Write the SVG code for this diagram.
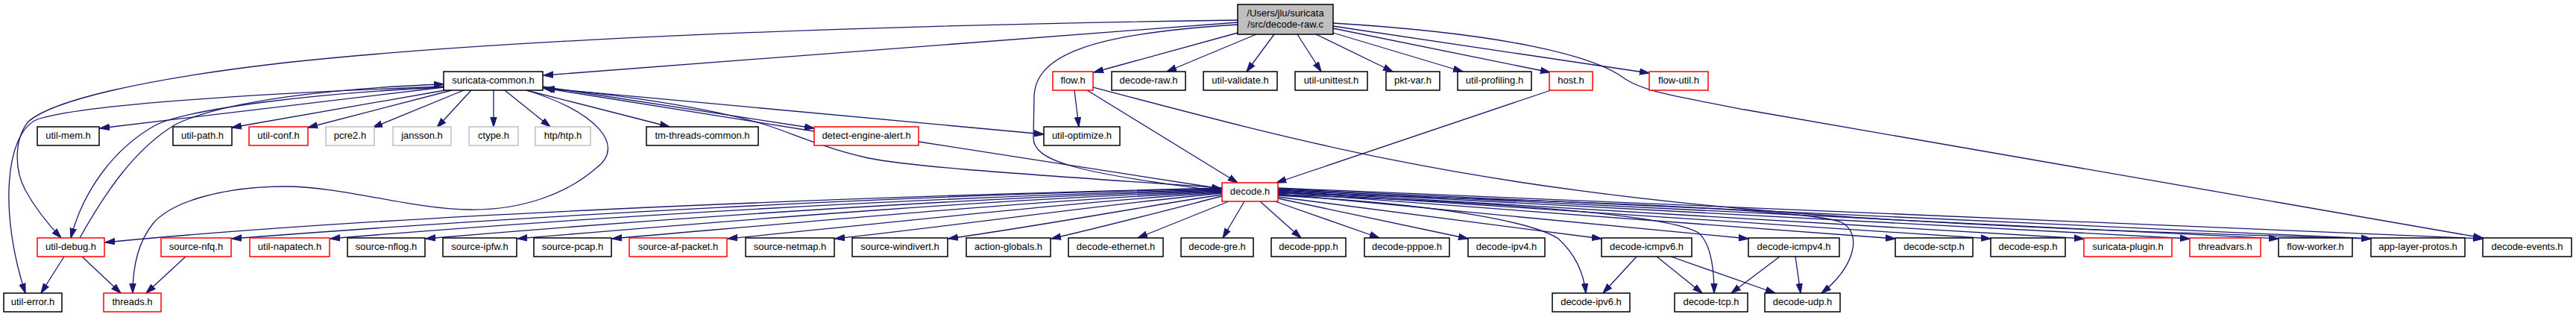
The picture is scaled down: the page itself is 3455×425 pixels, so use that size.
<svg xmlns="http://www.w3.org/2000/svg" width="3455" height="425" viewBox="0 0 3455 425">
<style>
.nd rect{fill:#fff;stroke:#000;stroke-width:1.5}
.nd.r rect{stroke:#ff0000}
.nd.g rect{stroke:#bfbfbf}
.nd.root rect{fill:#bfbfbf}
.nd text{font-family:"Liberation Sans",Arial,Helvetica,sans-serif;font-size:13px;text-anchor:middle;fill:#000}
#edges path{fill:none;stroke:#191970;stroke-width:1.3;marker-end:url(#ah)}
</style>
<defs>
<marker id="ah" viewBox="0 0 14 10" refX="13" refY="5" markerWidth="14" markerHeight="10" markerUnits="userSpaceOnUse" orient="auto">
<path d="M0,0.8 L13.5,5 L0,9.2 z" fill="#191970" stroke="#191970" stroke-width="1"/>
</marker>
</defs>
<rect width="3455" height="425" fill="#fff"/>
<g id="edges">
<!-- root edges -->
<path d="M1660,30 L729,101"/>
<path d="M1660,27 C1100,35 650,55 383,84 C190,106 70,135 38,163 C20,185 18,225 34,255 C45,275 62,298 82,319"/>
<path d="M1660,33 C1460,45 1388,75 1387,130 L1386,185 C1386,215 1440,232 1638,256"/>
<path d="M1660,44 L1467,97"/>
<path d="M1685,46 L1565,96"/>
<path d="M1709,46 L1672,96"/>
<path d="M1740,46 L1772,96"/>
<path d="M1765,46 L1868,96"/>
<path d="M1788,44 L1962,96"/>
<path d="M1788,38 L2079,97"/>
<path d="M1788,35 L2212,98"/>
<path d="M1788,31 C2020,45 2140,75 2180,106 C2205,122 2240,128 2340,147 L3330,319"/>
<!-- suricata-common edges -->
<path d="M595,117 L134,172"/>
<path d="M597,121 L311,171"/>
<path d="M606,121 L413,171"/>
<path d="M622,121 L500,171"/>
<path d="M632,121 L586,171"/>
<path d="M662,121 L662,170"/>
<path d="M677,121 L738,170"/>
<path d="M706,121 L898,170"/>
<path d="M728,116 L1092,172"/>
<path d="M1092,176 L729,118"/>
<path d="M729,118 L1400,180"/>
<path d="M595,117 C420,125 260,145 210,167 C150,200 110,260 95,319"/>
<path d="M107,319 C140,260 180,200 235,167 C300,135 450,118 595,113"/>
<path d="M595,116 C350,125 110,140 50,160 C5,180 0,290 34,393"/>
<path d="M706,121 C800,150 840,195 800,225 C760,260 700,282 630,281 C550,280 460,250 383,250 C300,250 230,270 205,300 C185,325 178,360 178,393"/>
<path d="M1639,252 C1400,235 1230,225 1165,212 C1110,200 1065,180 1035,170 C960,145 820,125 731,119"/>
<path d="M1232,190 L1638,253"/>
<!-- flow.h / host.h edges -->
<path d="M1441,121 L1447,170"/>
<path d="M1458,121 L1660,245"/>
<path d="M1466,117 C1750,192 1950,245 2340,280 C2600,303 2900,312 3180,320"/>
<path d="M2080,121 L1712,245"/>
<!-- decode.h left fan -->
<path d="M1639,252 C1100,265 500,290 141,325"/>
<path d="M1639,253 C1200,262 700,290 311,320"/>
<path d="M1639,254 C1250,264 800,290 443,320"/>
<path d="M1639,255 C1300,265 900,292 571,320"/>
<path d="M1639,256 C1350,266 1000,294 694,320"/>
<path d="M1639,257 C1400,268 1100,296 821,320"/>
<path d="M1639,258 C1450,270 1200,298 976,320"/>
<path d="M1639,259 C1500,272 1300,300 1120,320"/>
<path d="M1639,261 C1550,274 1400,302 1272,320"/>
<path d="M1639,263 C1580,278 1480,304 1410,320"/>
<path d="M1648,270 L1526,319"/>
<path d="M1669,270 L1640,319"/>
<path d="M1690,270 L1745,319"/>
<path d="M1710,270 L1850,319"/>
<!-- decode.h right fan -->
<path d="M1714,266 L1969,320"/>
<path d="M1714,264 L2148,320"/>
<path d="M1714,262 C1950,275 2060,300 2090,320 C2112,340 2124,365 2127,393"/>
<path d="M1714,261 C2050,272 2240,290 2278,312 C2293,325 2299,355 2299,393"/>
<path d="M1714,260 L2345,320"/>
<path d="M1714,259 C2150,270 2430,282 2470,298 C2500,315 2485,360 2443,393"/>
<path d="M1714,258 L2542,320"/>
<path d="M1714,257 L2670,320"/>
<path d="M1714,256 L2795,320"/>
<path d="M1714,255 L2937,320"/>
<path d="M1714,254 L3056,320"/>
<path d="M1714,253 L3180,320"/>
<path d="M1714,252 L3330,320"/>
<!-- lower row edges -->
<path d="M86,344 L55,393"/>
<path d="M110,344 L162,393"/>
<path d="M249,344 L196,393"/>
<path d="M2195,344 L2150,393"/>
<path d="M2222,344 L2283,393"/>
<path d="M2241,344 L2381,393"/>
<path d="M2387,344 L2322,393"/>
<path d="M2408,344 L2415,393"/>
</g>
<!-- nodes -->
<g id="root" class="nd root"><rect x="1660" y="6" width="128" height="40"/><text x="1724" y="22">/Users/jlu/suricata</text><text x="1724" y="37">/src/decode-raw.c</text></g>
<g id="suricata-common" class="nd"><rect x="595" y="96" width="133" height="25"/><text x="661.5" y="112">suricata-common.h</text></g>
<g id="flow" class="nd r"><rect x="1412" y="96" width="54" height="25"/><text x="1439" y="112">flow.h</text></g>
<g id="decode-raw" class="nd"><rect x="1491" y="96" width="99" height="25"/><text x="1540.5" y="112">decode-raw.h</text></g>
<g id="util-validate" class="nd"><rect x="1614" y="96" width="99" height="25"/><text x="1663.5" y="112">util-validate.h</text></g>
<g id="util-unittest" class="nd"><rect x="1737" y="96" width="97" height="25"/><text x="1785.5" y="112">util-unittest.h</text></g>
<g id="pkt-var" class="nd"><rect x="1859" y="96" width="72" height="25"/><text x="1895" y="112">pkt-var.h</text></g>
<g id="util-profiling" class="nd"><rect x="1955" y="96" width="99" height="25"/><text x="2004.5" y="112">util-profiling.h</text></g>
<g id="host" class="nd r"><rect x="2078" y="96" width="58" height="25"/><text x="2107" y="112">host.h</text></g>
<g id="flow-util" class="nd r"><rect x="2212" y="96" width="79" height="25"/><text x="2251.5" y="112">flow-util.h</text></g>

<g id="util-mem" class="nd"><rect x="50" y="170" width="83" height="25"/><text x="91.5" y="186">util-mem.h</text></g>
<g id="util-path" class="nd"><rect x="232" y="170" width="79" height="25"/><text x="271.5" y="186">util-path.h</text></g>
<g id="util-conf" class="nd r"><rect x="334" y="170" width="79" height="25"/><text x="373.5" y="186">util-conf.h</text></g>
<g id="pcre2" class="nd g"><rect x="437" y="170" width="65" height="25"/><text x="469.5" y="186">pcre2.h</text></g>
<g id="jansson" class="nd g"><rect x="527" y="170" width="78" height="25"/><text x="566" y="186">jansson.h</text></g>
<g id="ctype" class="nd g"><rect x="629" y="170" width="66" height="25"/><text x="662" y="186">ctype.h</text></g>
<g id="htp" class="nd g"><rect x="718" y="170" width="74" height="25"/><text x="755" y="186">htp/htp.h</text></g>
<g id="tm-threads-common" class="nd"><rect x="867" y="170" width="150" height="25"/><text x="942" y="186">tm-threads-common.h</text></g>
<g id="detect-engine-alert" class="nd r"><rect x="1092" y="170" width="140" height="25"/><text x="1162" y="186">detect-engine-alert.h</text></g>
<g id="util-optimize" class="nd"><rect x="1400" y="170" width="102" height="25"/><text x="1451" y="186">util-optimize.h</text></g>

<g id="decode" class="nd r"><rect x="1639" y="245" width="75" height="25"/><text x="1676.5" y="261">decode.h</text></g>

<g id="util-debug" class="nd r"><rect x="50" y="319" width="90" height="25"/><text x="95" y="335">util-debug.h</text></g>
<g id="source-nfq" class="nd r"><rect x="216" y="319" width="94" height="25"/><text x="263" y="335">source-nfq.h</text></g>
<g id="util-napatech" class="nd r"><rect x="335" y="319" width="107" height="25"/><text x="388.5" y="335">util-napatech.h</text></g>
<g id="source-nflog" class="nd"><rect x="466" y="319" width="104" height="25"/><text x="518" y="335">source-nflog.h</text></g>
<g id="source-ipfw" class="nd"><rect x="594" y="319" width="99" height="25"/><text x="643.5" y="335">source-ipfw.h</text></g>
<g id="source-pcap" class="nd"><rect x="716" y="319" width="104" height="25"/><text x="768" y="335">source-pcap.h</text></g>
<g id="source-af-packet" class="nd r"><rect x="844" y="319" width="131" height="25"/><text x="909.5" y="335">source-af-packet.h</text></g>
<g id="source-netmap" class="nd"><rect x="1000" y="319" width="119" height="25"/><text x="1059.5" y="335">source-netmap.h</text></g>
<g id="source-windivert" class="nd"><rect x="1143" y="319" width="128" height="25"/><text x="1207" y="335">source-windivert.h</text></g>
<g id="action-globals" class="nd"><rect x="1296" y="319" width="113" height="25"/><text x="1352.5" y="335">action-globals.h</text></g>
<g id="decode-ethernet" class="nd"><rect x="1433" y="319" width="127" height="25"/><text x="1496.5" y="335">decode-ethernet.h</text></g>
<g id="decode-gre" class="nd"><rect x="1584" y="319" width="97" height="25"/><text x="1632.5" y="335">decode-gre.h</text></g>
<g id="decode-ppp" class="nd"><rect x="1705" y="319" width="100" height="25"/><text x="1755" y="335">decode-ppp.h</text></g>
<g id="decode-pppoe" class="nd"><rect x="1830" y="319" width="114" height="25"/><text x="1887" y="335">decode-pppoe.h</text></g>
<g id="decode-ipv4" class="nd"><rect x="1969" y="319" width="103" height="25"/><text x="2020.5" y="335">decode-ipv4.h</text></g>
<g id="decode-icmpv6" class="nd"><rect x="2148" y="319" width="121" height="25"/><text x="2208.5" y="335">decode-icmpv6.h</text></g>
<g id="decode-icmpv4" class="nd"><rect x="2345" y="319" width="122" height="25"/><text x="2406" y="335">decode-icmpv4.h</text></g>
<g id="decode-sctp" class="nd"><rect x="2542" y="319" width="104" height="25"/><text x="2594" y="335">decode-sctp.h</text></g>
<g id="decode-esp" class="nd"><rect x="2670" y="319" width="100" height="25"/><text x="2720" y="335">decode-esp.h</text></g>
<g id="suricata-plugin" class="nd r"><rect x="2795" y="319" width="118" height="25"/><text x="2854" y="335">suricata-plugin.h</text></g>
<g id="threadvars" class="nd r"><rect x="2937" y="319" width="95" height="25"/><text x="2984.5" y="335">threadvars.h</text></g>
<g id="flow-worker" class="nd"><rect x="3056" y="319" width="99" height="25"/><text x="3105.5" y="335">flow-worker.h</text></g>
<g id="app-layer-protos" class="nd"><rect x="3180" y="319" width="126" height="25"/><text x="3243" y="335">app-layer-protos.h</text></g>
<g id="decode-events" class="nd"><rect x="3330" y="319" width="119" height="25"/><text x="3389.5" y="335">decode-events.h</text></g>

<g id="util-error" class="nd"><rect x="5" y="393" width="78" height="25"/><text x="44" y="409">util-error.h</text></g>
<g id="threads" class="nd r"><rect x="139" y="393" width="77" height="25"/><text x="177.5" y="409">threads.h</text></g>
<g id="decode-ipv6" class="nd"><rect x="2082" y="393" width="104" height="25"/><text x="2134" y="409">decode-ipv6.h</text></g>
<g id="decode-tcp" class="nd"><rect x="2246" y="393" width="98" height="25"/><text x="2295" y="409">decode-tcp.h</text></g>
<g id="decode-udp" class="nd"><rect x="2367" y="393" width="101" height="25"/><text x="2417.5" y="409">decode-udp.h</text></g>
</svg>
